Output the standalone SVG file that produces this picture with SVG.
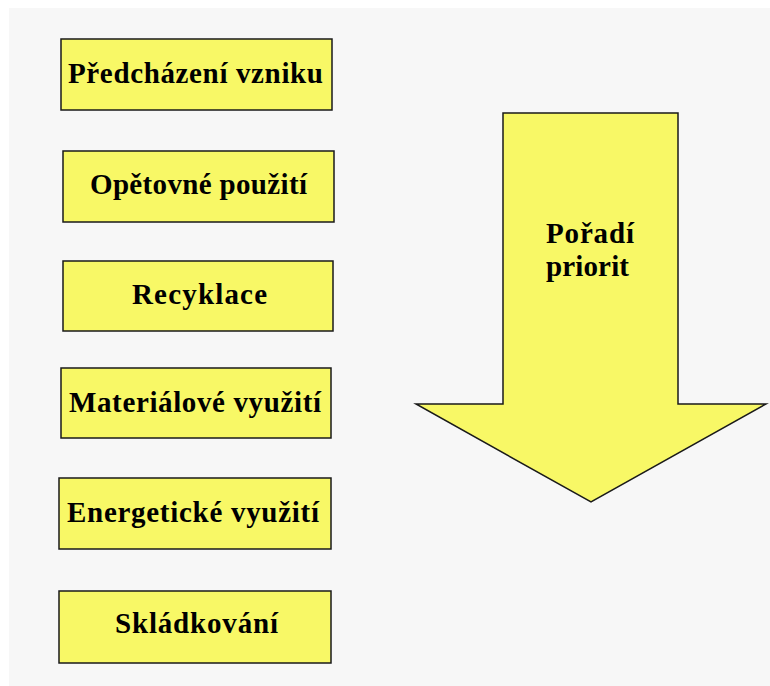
<svg xmlns="http://www.w3.org/2000/svg" width="770" height="686" viewBox="0 0 770 686">
  <style>
    .box { fill: #f8f866; stroke: #1a1a1a; stroke-width: 1.5; }
    .lbl { font-family: "Liberation Serif", "Times New Roman", serif; font-weight: bold; font-size: 29px; fill: #000; text-anchor: middle; }
  </style>
  <rect width="770" height="686" fill="#ffffff"/>
  <rect x="9" y="8" width="761" height="678" fill="#f7f7f7"/>

  <g id="predchazeni">
    <rect class="box" x="61" y="39" width="271" height="71"/>
    <text class="lbl" x="195.5" y="83" textLength="255">Předcházení vzniku</text>
  </g>
  <g id="opetovne">
    <rect class="box" x="63" y="151" width="271" height="71"/>
    <text class="lbl" x="198.5" y="194" textLength="217">Opětovné použití</text>
  </g>
  <g id="recyklace">
    <rect class="box" x="63" y="261" width="270" height="70"/>
    <text class="lbl" x="199.5" y="304" textLength="135">Recyklace</text>
  </g>
  <g id="materialove">
    <rect class="box" x="61" y="368" width="270" height="70"/>
    <text class="lbl" x="195" y="412" textLength="252">Materiálové využití</text>
  </g>
  <g id="energeticke">
    <rect class="box" x="59" y="478" width="272" height="71"/>
    <text class="lbl" x="193" y="522" textLength="252">Energetické využití</text>
  </g>
  <g id="skladkovani">
    <rect class="box" x="59" y="591" width="272" height="72"/>
    <text class="lbl" x="196.5" y="633" textLength="163">Skládkování</text>
  </g>

  <g id="poradi">
    <polygon class="box" points="503,113 678,113 678,404 766,404 591,502 416,404 503,404"/>
    <text class="lbl" x="590" y="243" textLength="88">Pořadí</text>
    <text class="lbl" x="587.5" y="276" textLength="83">priorit</text>
  </g>
</svg>
